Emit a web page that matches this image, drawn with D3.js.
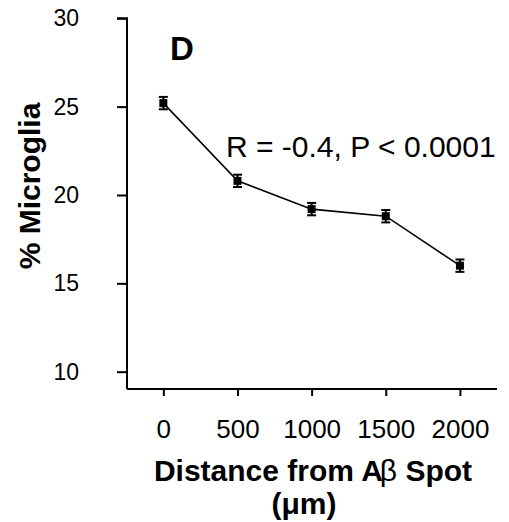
<!DOCTYPE html>
<html>
<head>
<meta charset="utf-8">
<script src="https://cdn.jsdelivr.net/npm/d3@7"></script>
<style>
  html, body { margin: 0; padding: 0; background: #fff; }
  svg { display: block; font-family: "Liberation Sans", Arial, Helvetica, sans-serif; }
</style>
</head>
<body>
<svg id="chart" width="509" height="522"></svg>
<script>
// Data
const distances = [0, 500, 1000, 1500, 2000];
const microglia = [25.2, 20.8, 19.2, 18.8, 16.0];
const errors = [0.35, 0.35, 0.35, 0.35, 0.35];
const yTicks = [10, 15, 20, 25, 30];
const xTicks = [0, 500, 1000, 1500, 2000];

const svg = d3.select("#chart");

const x = d3.scaleLinear().domain([-245, 2250]).range([127, 497]);
const y = d3.scaleLinear().domain([9.02, 30]).range([389, 18.3]);

// Y axis
const yAxis = d3.axisLeft(y).tickValues(yTicks).tickFormat(d3.format("d"))
  .tickSize(10).tickSizeOuter(0).tickPadding(38);
const gy = svg.append("g").attr("transform", "translate(127,0)").call(yAxis);
gy.select(".domain").attr("d", `M-10,${y(30)}H0V389`).attr("stroke-width", 2);
gy.selectAll(".tick line").attr("stroke-width", 2);
gy.selectAll(".tick text")
  .attr("font-size", 23).attr("fill", "#000")
  .attr("font-family", "Liberation Sans, Arial, sans-serif")
  .attr("text-anchor", "start")
  .each(function () {
    let w = 0;
    try { w = this.getBBox().width; } catch (e) { w = 0; }
    if (!(w > 5)) w = 0.556 * 23 * this.textContent.length;
    d3.select(this).attr("x", -48 - w);
  });

// X axis
const xAxis = d3.axisBottom(x).tickValues(xTicks).tickFormat(d3.format("d"))
  .tickSize(7).tickSizeOuter(0).tickPadding(24);
const gx = svg.append("g").attr("transform", "translate(0,389)").call(xAxis);
gx.select(".domain").attr("d", `M127,0H497`).attr("stroke-width", 2);
gx.selectAll(".tick line").attr("stroke-width", 2);
gx.selectAll(".tick text").attr("font-size", 26).attr("fill", "#000")
  .style("text-anchor", "middle")
  .attr("font-family", "Liberation Sans, Arial, sans-serif");

// Line
const pts = distances.map((d, i) => ({ d, v: microglia[i], e: errors[i] }));
svg.append("path").datum(pts)
  .attr("fill", "none").attr("stroke", "#000").attr("stroke-width", 1.6)
  .attr("d", d3.line().x(p => x(p.d)).y(p => y(p.v)));

// Error bars
const eb = svg.append("g").attr("stroke", "#000").attr("stroke-width", 2);
pts.forEach(p => {
  const cx = x(p.d);
  eb.append("line").attr("x1", cx).attr("x2", cx).attr("y1", y(p.v + p.e)).attr("y2", y(p.v - p.e));
  eb.append("line").attr("x1", cx - 4.5).attr("x2", cx + 4.5).attr("y1", y(p.v + p.e)).attr("y2", y(p.v + p.e));
  eb.append("line").attr("x1", cx - 4.5).attr("x2", cx + 4.5).attr("y1", y(p.v - p.e)).attr("y2", y(p.v - p.e));
});

// Markers
svg.append("g").selectAll("rect").data(pts).join("rect")
  .attr("x", p => x(p.d) - 4).attr("y", p => y(p.v) - 4)
  .attr("width", 8).attr("height", 8).attr("fill", "#000");

// Panel letter
svg.append("text").attr("x", 170).attr("y", 60).attr("font-size", 33).attr("font-weight", "bold").text("D");

// Annotation
svg.append("text").attr("x", 226).attr("y", 157).attr("font-size", 30).text("R = -0.4, P < 0.0001");

// Y label
svg.append("text").attr("transform", "translate(40,186) rotate(-90)")
  .style("text-anchor", "middle").attr("font-size", 30).attr("font-weight", "bold").text("% Microglia");

// X label
const xl = svg.append("text").attr("x", 313).attr("y", 481).style("text-anchor", "middle")
  .attr("font-size", 30).attr("font-weight", "bold");
xl.append("tspan").text("Distance from A");
xl.append("tspan").attr("font-weight", "normal").attr("dx", -3).text("β");
xl.append("tspan").text(" Spot");
svg.append("text").attr("x", 304).attr("y", 514).style("text-anchor", "middle")
  .attr("font-size", 30).attr("font-weight", "bold").text("(μm)");
</script>
</body>
</html>
